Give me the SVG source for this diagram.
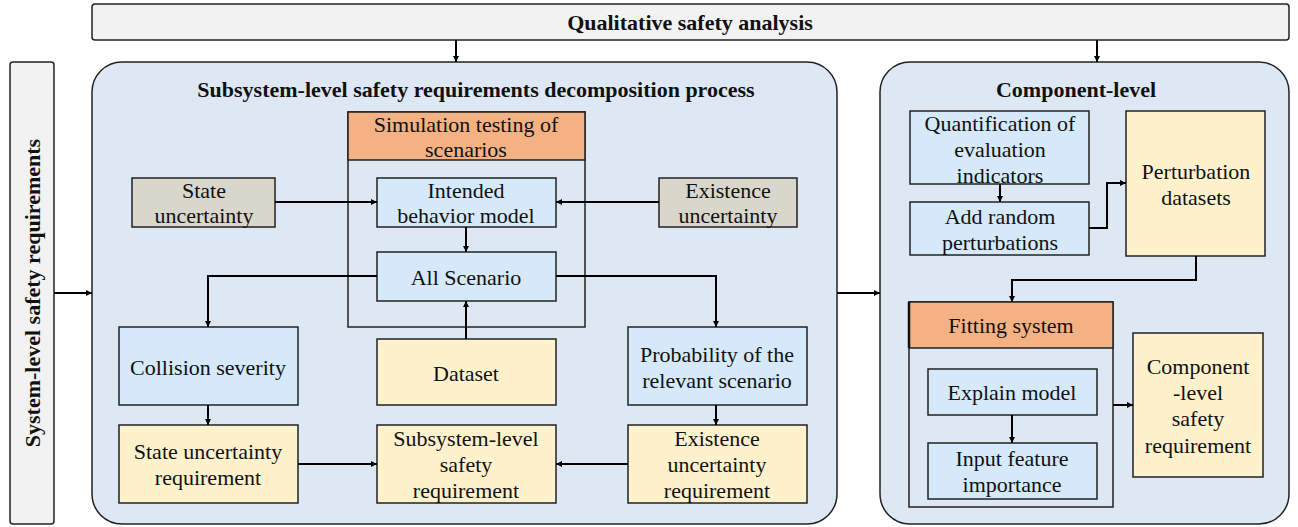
<svg xmlns="http://www.w3.org/2000/svg" width="1298" height="527" viewBox="0 0 1298 527">
  <defs>
    <marker id="arr" viewBox="0 0 10 10" refX="10" refY="5" markerWidth="6" markerHeight="6" markerUnits="userSpaceOnUse" orient="auto">
      <path d="M0,0 L10,5 L0,10 z" fill="#000"/>
    </marker>
    <style>
      text { font-family: 'Liberation Serif', 'Times New Roman', serif; fill: #111; text-anchor: middle; dominant-baseline: central; }
      .t { font-size: 22px; }
      .h { font-size: 22px; font-weight: bold; }
      .panel { fill: #dee8f4; stroke: #222; stroke-width: 1.5; }
      .bar { fill: #f2f2f2; stroke: #222; stroke-width: 1.5; }
      .blue { fill: #d5e9fb; stroke: #222; stroke-width: 1.5; }
      .cream { fill: #fff1cc; stroke: #222; stroke-width: 1.5; }
      .gray { fill: #d9d7cc; stroke: #222; stroke-width: 1.5; }
      .orange { fill: #f4b183; stroke: #222; stroke-width: 1.5; }
      .frame { fill: none; stroke: #222; stroke-width: 1.5; }
      .conn { fill: none; stroke: #000; stroke-width: 2; marker-end: url(#arr); }
    </style>
  </defs>

  <!-- top bar -->
  <g id="qualitative">
    <rect class="bar" x="92" y="4" width="1197" height="36" rx="3"/>
    <text class="h" x="690" y="22">Qualitative safety analysis</text>
  </g>

  <!-- left vertical bar -->
  <g id="system-level">
    <rect class="bar" x="10" y="62" width="44" height="462" rx="3"/>
    <text class="h" transform="translate(32,293) rotate(-90)">System-level safety requirements</text>
  </g>

  <!-- subsystem panel -->
  <g id="subsystem-panel">
    <rect class="panel" x="92" y="62" width="745" height="462" rx="30"/>
    <text class="h" x="476" y="89">Subsystem-level safety requirements decomposition process</text>
  </g>

  <!-- component panel -->
  <g id="component-panel">
    <rect class="panel" x="880" y="62" width="409" height="462" rx="30"/>
    <text class="h" x="1076" y="89">Component-level</text>
  </g>

  <!-- simulation testing container -->
  <g id="simulation">
    <rect class="frame" x="348" y="112" width="237" height="215"/>
    <rect class="orange" x="348" y="112" width="237" height="48"/>
    <text class="t" x="466" y="124">Simulation testing of</text>
    <text class="t" x="466" y="149">scenarios</text>
  </g>

  <g id="state-uncertainty">
    <rect class="gray" x="132" y="178" width="143" height="49"/>
    <text class="t" x="204" y="190">State</text>
    <text class="t" x="204" y="215">uncertainty</text>
  </g>

  <g id="existence-uncertainty">
    <rect class="gray" x="659" y="178" width="138" height="49"/>
    <text class="t" x="728" y="190">Existence</text>
    <text class="t" x="728" y="215">uncertainty</text>
  </g>

  <g id="intended-behavior">
    <rect class="blue" x="377" y="178" width="179" height="49"/>
    <text class="t" x="466" y="190">Intended</text>
    <text class="t" x="466" y="215">behavior model</text>
  </g>

  <g id="all-scenario">
    <rect class="blue" x="377" y="252" width="179" height="49"/>
    <text class="t" x="466" y="277">All Scenario</text>
  </g>

  <g id="collision-severity">
    <rect class="blue" x="119" y="327" width="179" height="78"/>
    <text class="t" x="208" y="367">Collision severity</text>
  </g>

  <g id="dataset">
    <rect class="cream" x="377" y="339" width="179" height="66"/>
    <text class="t" x="466" y="373">Dataset</text>
  </g>

  <g id="probability">
    <rect class="blue" x="628" y="327" width="179" height="78"/>
    <text class="t" x="717" y="354">Probability of the</text>
    <text class="t" x="717" y="380">relevant scenario</text>
  </g>

  <g id="state-requirement">
    <rect class="cream" x="119" y="425" width="179" height="78"/>
    <text class="t" x="208" y="451">State uncertainty</text>
    <text class="t" x="208" y="477">requirement</text>
  </g>

  <g id="subsystem-requirement">
    <rect class="cream" x="377" y="425" width="179" height="78"/>
    <text class="t" x="466" y="438">Subsystem-level</text>
    <text class="t" x="466" y="464">safety</text>
    <text class="t" x="466" y="490">requirement</text>
  </g>

  <g id="existence-requirement">
    <rect class="cream" x="628" y="425" width="179" height="78"/>
    <text class="t" x="717" y="438">Existence</text>
    <text class="t" x="717" y="464">uncertainty</text>
    <text class="t" x="717" y="490">requirement</text>
  </g>

  <!-- component-level nodes -->
  <g id="quantification">
    <rect class="blue" x="910" y="111" width="179" height="73"/>
    <text class="t" x="1000" y="123">Quantification of</text>
    <text class="t" x="1000" y="149">evaluation</text>
    <text class="t" x="1000" y="175">indicators</text>
  </g>

  <g id="random-perturbations">
    <rect class="blue" x="910" y="202" width="179" height="53"/>
    <text class="t" x="1000" y="216">Add random</text>
    <text class="t" x="1000" y="242">perturbations</text>
  </g>

  <g id="perturbation-datasets">
    <rect class="cream" x="1126" y="111" width="139" height="145"/>
    <text class="t" x="1196" y="171">Perturbation</text>
    <text class="t" x="1196" y="197">datasets</text>
  </g>

  <g id="fitting-system">
    <rect class="frame" x="909" y="302" width="204" height="205"/>
    <rect class="orange" x="909" y="302" width="204" height="46"/>
    <line x1="909" y1="302" x2="909" y2="348" stroke="#111" stroke-width="2.5"/>
    <text class="t" x="1011" y="325">Fitting system</text>
  </g>

  <g id="explain-model">
    <rect class="blue" x="928" y="369" width="169" height="46"/>
    <text class="t" x="1012" y="392">Explain model</text>
  </g>

  <g id="feature-importance">
    <rect class="blue" x="928" y="443" width="169" height="56"/>
    <text class="t" x="1012" y="458">Input feature</text>
    <text class="t" x="1012" y="484">importance</text>
  </g>

  <g id="component-requirement">
    <rect class="cream" x="1133" y="333" width="130" height="144"/>
    <text class="t" x="1198" y="366">Component</text>
    <text class="t" x="1198" y="392">-level</text>
    <text class="t" x="1198" y="418">safety</text>
    <text class="t" x="1198" y="445">requirement</text>
  </g>

  <!-- connectors -->
  <g id="connectors">
    <path class="conn" d="M456,40 V62"/>
    <path class="conn" d="M1097,40 V62"/>
    <path class="conn" d="M54,293 H92"/>
    <path class="conn" d="M837,293 H880"/>
    <path class="conn" d="M275,202 H377"/>
    <path class="conn" d="M659,202 H556"/>
    <path class="conn" d="M466,227 V252"/>
    <path class="conn" d="M377,276 H208 V327"/>
    <path class="conn" d="M556,276 H716 V327"/>
    <path class="conn" d="M466,339 V301"/>
    <path class="conn" d="M208,405 V425"/>
    <path class="conn" d="M716,405 V425"/>
    <path class="conn" d="M298,464 H377"/>
    <path class="conn" d="M628,464 H556"/>
    <path class="conn" d="M1000,184 V202"/>
    <path class="conn" d="M1089,228 H1107 V183 H1126"/>
    <path class="conn" d="M1196,256 V280 H1012 V302"/>
    <path class="conn" d="M1012,415 V443"/>
    <path class="conn" d="M1113,405 H1133"/>
  </g>
</svg>
